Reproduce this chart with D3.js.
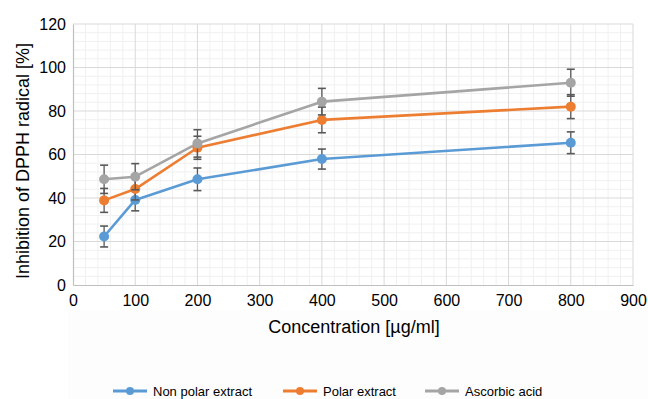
<!DOCTYPE html>
<html>
<head>
<meta charset="utf-8">
<script src="https://cdn.jsdelivr.net/npm/d3@7"></script>
<style>
  body { margin: 0; background: #fff; }
  text { font-family: "Liberation Sans", Arial, sans-serif; fill: #000; }
</style>
</head>
<body>
<div id="chart"></div>
<script>
const FRAME_WIDTH = 648;
const FRAME_HEIGHT = 399;
const MARGINS = {left: 73, right: 15, top: 24, bottom: 114};

const VIS_WIDTH = FRAME_WIDTH - MARGINS.left - MARGINS.right;
const VIS_HEIGHT = FRAME_HEIGHT - MARGINS.top - MARGINS.bottom;

// data
const concentrations = [50, 100, 200, 400, 800];
const nonPolar = [22.3, 39.1, 48.6, 57.9, 65.4];
const nonPolarErr = [4.8, 5.0, 5.2, 4.6, 5.0];
const polar = [38.9, 44.1, 63.1, 75.9, 82.0];
const polarErr = [5.5, 5.0, 5.3, 5.9, 5.5];
const ascorbic = [48.6, 49.8, 65.1, 84.3, 93.0];
const ascorbicErr = [6.5, 6.0, 6.3, 6.1, 6.2];

const xTicks = [0, 100, 200, 300, 400, 500, 600, 700, 800, 900];
const yTicks = [0, 20, 40, 60, 80, 100, 120];

const series = [
  {name: "Non polar extract", values: nonPolar, err: nonPolarErr, color: "#5b9bd5"},
  {name: "Polar extract", values: polar, err: polarErr, color: "#ed7d31"},
  {name: "Ascorbic acid", values: ascorbic, err: ascorbicErr, color: "#a5a5a5"}
];

const svg = d3.select("#chart")
  .append("svg")
    .attr("width", FRAME_WIDTH)
    .attr("height", FRAME_HEIGHT);

// faint panel below the axis
svg.append("rect")
  .attr("x", 68).attr("y", 310)
  .attr("width", FRAME_WIDTH - 68).attr("height", FRAME_HEIGHT - 310)
  .attr("fill", "#fdfdfd");

let xScale = d3.scaleLinear().domain([0, 900]).range([0, VIS_WIDTH]);
let yScale = d3.scaleLinear().domain([0, 120]).range([VIS_HEIGHT, 0]);

let g = svg.append("g")
  .attr("transform", "translate(" + MARGINS.left + "," + MARGINS.top + ")");

// minor grid
g.append("g")
  .selectAll("line")
  .data(d3.range(0, 901, 20).filter(v => v % 100 !== 0))
  .enter().append("line")
    .attr("x1", d => xScale(d)).attr("x2", d => xScale(d))
    .attr("y1", 0).attr("y2", VIS_HEIGHT)
    .attr("stroke", "#f0f0f0").attr("stroke-width", 1);

g.append("g")
  .selectAll("line")
  .data(d3.range(0, 121, 4).filter(v => v % 20 !== 0))
  .enter().append("line")
    .attr("x1", 0).attr("x2", VIS_WIDTH)
    .attr("y1", d => yScale(d)).attr("y2", d => yScale(d))
    .attr("stroke", "#f0f0f0").attr("stroke-width", 1);

// major grid
g.append("g")
  .selectAll("line")
  .data(xTicks.slice(1))
  .enter().append("line")
    .attr("x1", d => xScale(d)).attr("x2", d => xScale(d))
    .attr("y1", 0).attr("y2", VIS_HEIGHT)
    .attr("stroke", "#d9d9d9").attr("stroke-width", 1);

g.append("g")
  .selectAll("line")
  .data(yTicks.slice(1))
  .enter().append("line")
    .attr("x1", 0).attr("x2", VIS_WIDTH)
    .attr("y1", d => yScale(d)).attr("y2", d => yScale(d))
    .attr("stroke", "#d9d9d9").attr("stroke-width", 1);

// axes
let xAxis = g.append("g")
  .attr("transform", "translate(0," + VIS_HEIGHT + ")")
  .call(d3.axisBottom(xScale).tickValues(xTicks).tickSize(0).tickPadding(10));
xAxis.select(".domain").attr("stroke", "#bfbfbf").attr("stroke-width", 1.2);
xAxis.selectAll("text").attr("font-size", 16).attr("font-family", "Liberation Sans, Arial, sans-serif").attr("fill", "#000");

let yAxis = g.append("g")
  .call(d3.axisLeft(yScale).tickValues(yTicks).tickSize(0).tickPadding(7));
yAxis.select(".domain").attr("stroke", "#bfbfbf").attr("stroke-width", 1.2);
yAxis.selectAll("text").attr("font-size", 16).attr("font-family", "Liberation Sans, Arial, sans-serif").attr("fill", "#000");

// lines
let line = d3.line()
  .x((d, i) => xScale(concentrations[i]))
  .y(d => yScale(d));

series.forEach(s => {
  g.append("path")
    .datum(s.values)
    .attr("fill", "none")
    .attr("stroke", s.color)
    .attr("stroke-width", 2.6)
    .attr("stroke-linejoin", "round")
    .attr("d", line);
});

// markers and error bars
series.forEach(s => {
  let pts = g.append("g").selectAll("g")
    .data(s.values)
    .enter().append("g");

  pts.append("line")
    .attr("x1", (d, i) => xScale(concentrations[i]))
    .attr("x2", (d, i) => xScale(concentrations[i]))
    .attr("y1", (d, i) => yScale(d + s.err[i]))
    .attr("y2", (d, i) => yScale(d - s.err[i]))
    .attr("stroke", "#595959").attr("stroke-width", 1.3);

  [1, -1].forEach(sign => {
    pts.append("line")
      .attr("x1", (d, i) => xScale(concentrations[i]) - 4)
      .attr("x2", (d, i) => xScale(concentrations[i]) + 4)
      .attr("y1", (d, i) => yScale(d + sign * s.err[i]))
      .attr("y2", (d, i) => yScale(d + sign * s.err[i]))
      .attr("stroke", "#595959").attr("stroke-width", 1.6);
  });

  pts.append("circle")
    .attr("cx", (d, i) => xScale(concentrations[i]))
    .attr("cy", d => yScale(d))
    .attr("r", 5)
    .attr("fill", s.color);
});

// axis titles
svg.append("text")
  .attr("x", 354)
  .attr("y", 333)
  .attr("text-anchor", "middle")
  .attr("font-size", 18)
  .text("Concentration [µg/ml]");

svg.append("text")
  .attr("transform", "translate(29,161) rotate(-90)")
  .attr("text-anchor", "middle")
  .attr("font-size", 18)
  .text("Inhibition of DPPH radical [%]");

// legend
const legendX = [113, 283, 425];
let legend = svg.append("g").selectAll("g")
  .data(series)
  .enter().append("g")
    .attr("transform", (d, i) => "translate(" + legendX[i] + ",391)");

legend.append("line")
  .attr("x1", 0).attr("x2", 34)
  .attr("stroke", d => d.color).attr("stroke-width", 2.8);
legend.append("circle")
  .attr("cx", 17).attr("r", 4)
  .attr("fill", d => d.color);
legend.append("text")
  .attr("x", 40).attr("y", 4.5)
  .attr("font-size", 13)
  .text(d => d.name);
</script>
</body>
</html>
